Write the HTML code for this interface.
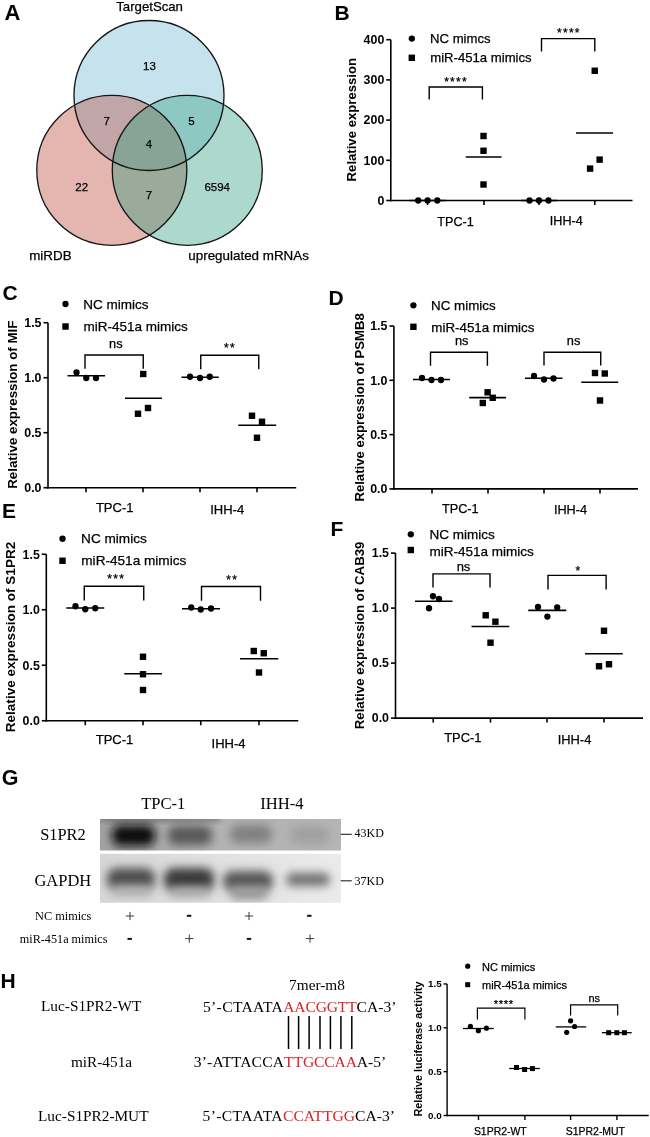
<!DOCTYPE html>
<html><head><meta charset="utf-8"><style>
html,body{margin:0;padding:0;background:#fff;}
body{width:650px;height:1137px;overflow:hidden;}
svg{display:block;will-change:transform;}
</style></head><body>
<svg width="650" height="1137" viewBox="0 0 650 1137">
<rect width="650" height="1137" fill="#fff"/>
<g>
<text x="4.4" y="20.0" font-family='"Liberation Sans", sans-serif' font-size="22" font-weight="bold" text-anchor="start" fill="#000" >A</text>
<defs><clipPath id="cpP"><circle cx="112.2" cy="170.3" r="75"/></clipPath><clipPath id="cpT"><circle cx="187.3" cy="170.3" r="75"/></clipPath></defs>
<circle cx="149" cy="95.5" r="75" fill="#c6e2ec"/>
<circle cx="112.2" cy="170.3" r="75" fill="#e4b6af"/>
<circle cx="187.3" cy="170.3" r="75" fill="#acd8cd"/>
<g clip-path="url(#cpP)"><circle cx="149" cy="95.5" r="75" fill="#c2a5a6"/></g>
<g clip-path="url(#cpT)"><circle cx="149" cy="95.5" r="75" fill="#8ec8c3"/><circle cx="112.2" cy="170.3" r="75" fill="#9aab9c"/><g clip-path="url(#cpP)"><circle cx="149" cy="95.5" r="75" fill="#87a496"/></g></g>
<circle cx="149" cy="95.5" r="75" fill="none" stroke="#151515" stroke-width="1.35"/>
<circle cx="111.8" cy="170.3" r="75" fill="none" stroke="#151515" stroke-width="1.35"/>
<circle cx="187.3" cy="170.3" r="75" fill="none" stroke="#151515" stroke-width="1.35"/>
<text x="149.6" y="11.4" font-family='"Liberation Sans", sans-serif' font-size="13.2" stroke="#000" stroke-width="0.25" text-anchor="middle" fill="#000" >TargetScan</text>
<text x="29.2" y="260.0" font-family='"Liberation Sans", sans-serif' font-size="13.4" stroke="#000" stroke-width="0.25" text-anchor="start" fill="#000" >miRDB</text>
<text x="188.3" y="260.0" font-family='"Liberation Sans", sans-serif' font-size="13.4" stroke="#000" stroke-width="0.25" text-anchor="start" fill="#000" >upregulated mRNAs</text>
<text x="149.4" y="70.30000000000001" font-family='"Liberation Sans", sans-serif' font-size="11.5" stroke="#000" stroke-width="0.25" text-anchor="middle" fill="#000" >13</text>
<text x="106.8" y="124.7" font-family='"Liberation Sans", sans-serif' font-size="11.5" stroke="#000" stroke-width="0.25" text-anchor="middle" fill="#000" >7</text>
<text x="191.4" y="124.7" font-family='"Liberation Sans", sans-serif' font-size="11.5" stroke="#000" stroke-width="0.25" text-anchor="middle" fill="#000" >5</text>
<text x="148.9" y="148.3" font-family='"Liberation Sans", sans-serif' font-size="11.5" stroke="#000" stroke-width="0.25" text-anchor="middle" fill="#000" >4</text>
<text x="81.7" y="191.1" font-family='"Liberation Sans", sans-serif' font-size="11.5" stroke="#000" stroke-width="0.25" text-anchor="middle" fill="#000" >22</text>
<text x="148.9" y="198.5" font-family='"Liberation Sans", sans-serif' font-size="11.5" stroke="#000" stroke-width="0.25" text-anchor="middle" fill="#000" >7</text>
<text x="217.2" y="191.1" font-family='"Liberation Sans", sans-serif' font-size="11.5" stroke="#000" stroke-width="0.25" text-anchor="middle" fill="#000" >6594</text>
</g>
<text x="334.5" y="19.8" font-family='"Liberation Sans", sans-serif' font-size="21" font-weight="bold" text-anchor="start" fill="#000" >B</text>
<line x1="390.8" y1="39.69999999999999" x2="390.8" y2="201.3" stroke="#000" stroke-width="1.6"/>
<line x1="390.0" y1="200.5" x2="632.5" y2="200.5" stroke="#000" stroke-width="1.6"/>
<line x1="386.3" y1="200.5" x2="390.8" y2="200.5" stroke="#000" stroke-width="1.6"/>
<text x="384.3" y="204.778" font-family='"Liberation Sans", sans-serif' font-size="12.4" font-weight="bold" text-anchor="end" fill="#000" >0</text>
<line x1="386.3" y1="160.3" x2="390.8" y2="160.3" stroke="#000" stroke-width="1.6"/>
<text x="384.3" y="164.578" font-family='"Liberation Sans", sans-serif' font-size="12.4" font-weight="bold" text-anchor="end" fill="#000" >100</text>
<line x1="386.3" y1="120.1" x2="390.8" y2="120.1" stroke="#000" stroke-width="1.6"/>
<text x="384.3" y="124.378" font-family='"Liberation Sans", sans-serif' font-size="12.4" font-weight="bold" text-anchor="end" fill="#000" >200</text>
<line x1="386.3" y1="79.89999999999999" x2="390.8" y2="79.89999999999999" stroke="#000" stroke-width="1.6"/>
<text x="384.3" y="84.178" font-family='"Liberation Sans", sans-serif' font-size="12.4" font-weight="bold" text-anchor="end" fill="#000" >300</text>
<line x1="386.3" y1="39.69999999999999" x2="390.8" y2="39.69999999999999" stroke="#000" stroke-width="1.6"/>
<text x="384.3" y="43.97799999999999" font-family='"Liberation Sans", sans-serif' font-size="12.4" font-weight="bold" text-anchor="end" fill="#000" >400</text>
<line x1="427.6" y1="200.5" x2="427.6" y2="205.0" stroke="#000" stroke-width="1.6"/>
<line x1="484" y1="200.5" x2="484" y2="205.0" stroke="#000" stroke-width="1.6"/>
<line x1="539" y1="200.5" x2="539" y2="205.0" stroke="#000" stroke-width="1.6"/>
<line x1="594.75" y1="200.5" x2="594.75" y2="205.0" stroke="#000" stroke-width="1.6"/>
<text transform="translate(356.0,119.7) rotate(-90)" font-family='"Liberation Sans", sans-serif' font-size="13.15" font-weight="bold" text-anchor="middle">Relative expression</text>
<text x="455.5" y="225.5" font-family='"Liberation Sans", sans-serif' font-size="12.6" stroke="#000" stroke-width="0.25" text-anchor="middle" fill="#000" >TPC-1</text>
<text x="566.3" y="225.3" font-family='"Liberation Sans", sans-serif' font-size="12.6" stroke="#000" stroke-width="0.25" text-anchor="middle" fill="#000" >IHH-4</text>
<circle cx="411.8" cy="38.6" r="3.15" fill="#000"/>
<text x="430.0" y="42.7" font-family='"Liberation Sans", sans-serif' font-size="13.15" stroke="#000" stroke-width="0.25" text-anchor="start" fill="#000" >NC mimcs</text>
<rect x="408.60" y="54.60" width="6.4" height="6.4" fill="#000"/>
<text x="430.2" y="62.4" font-family='"Liberation Sans", sans-serif' font-size="13.15" stroke="#000" stroke-width="0.25" text-anchor="start" fill="#000" >miR-451a mimics</text>
<path d="M429.2 99.5 V87 H482.4 V99.5" fill="none" stroke="#000" stroke-width="1.4"/>
<text x="456.1" y="85.5" font-family='"Liberation Sans", sans-serif' font-size="12" stroke="#000" stroke-width="0.25" text-anchor="middle" fill="#000" letter-spacing="1.3">****</text>
<path d="M541.5 51.6 V38.6 H594.8 V51.6" fill="none" stroke="#000" stroke-width="1.4"/>
<text x="568.9" y="37" font-family='"Liberation Sans", sans-serif' font-size="12" stroke="#000" stroke-width="0.25" text-anchor="middle" fill="#000" letter-spacing="1.3">****</text>
<circle cx="418.2" cy="200.5" r="3.15" fill="#000"/>
<circle cx="427.6" cy="200.5" r="3.15" fill="#000"/>
<circle cx="437.3" cy="200.5" r="3.15" fill="#000"/>
<line x1="409.5" y1="200.5" x2="446" y2="200.5" stroke="#000" stroke-width="1.7"/>
<rect x="480.30" y="132.80" width="6.4" height="6.4" fill="#000"/>
<rect x="480.30" y="147.55" width="6.4" height="6.4" fill="#000"/>
<rect x="480.30" y="181.30" width="6.4" height="6.4" fill="#000"/>
<line x1="465.75" y1="157" x2="501.5" y2="157" stroke="#000" stroke-width="1.7"/>
<circle cx="529.5" cy="200.5" r="3.15" fill="#000"/>
<circle cx="539" cy="200.5" r="3.15" fill="#000"/>
<circle cx="548.5" cy="200.5" r="3.15" fill="#000"/>
<line x1="521" y1="200.5" x2="557" y2="200.5" stroke="#000" stroke-width="1.7"/>
<rect x="591.55" y="67.55" width="6.4" height="6.4" fill="#000"/>
<rect x="586.90" y="165.40" width="6.4" height="6.4" fill="#000"/>
<rect x="596.40" y="156.40" width="6.4" height="6.4" fill="#000"/>
<line x1="576" y1="133" x2="613" y2="133" stroke="#000" stroke-width="1.7"/>
<text x="2.5" y="299.5" font-family='"Liberation Sans", sans-serif' font-size="21" font-weight="bold" text-anchor="start" fill="#000" >C</text>
<line x1="48.0" y1="322.7" x2="48.0" y2="488.5" stroke="#000" stroke-width="1.6"/>
<line x1="47.2" y1="487.7" x2="296.25" y2="487.7" stroke="#000" stroke-width="1.6"/>
<line x1="43.5" y1="487.7" x2="48.0" y2="487.7" stroke="#000" stroke-width="1.6"/>
<text x="41.5" y="491.978" font-family='"Liberation Sans", sans-serif' font-size="12.4" font-weight="bold" text-anchor="end" fill="#000" >0.0</text>
<line x1="43.5" y1="432.7" x2="48.0" y2="432.7" stroke="#000" stroke-width="1.6"/>
<text x="41.5" y="436.978" font-family='"Liberation Sans", sans-serif' font-size="12.4" font-weight="bold" text-anchor="end" fill="#000" >0.5</text>
<line x1="43.5" y1="377.7" x2="48.0" y2="377.7" stroke="#000" stroke-width="1.6"/>
<text x="41.5" y="381.978" font-family='"Liberation Sans", sans-serif' font-size="12.4" font-weight="bold" text-anchor="end" fill="#000" >1.0</text>
<line x1="43.5" y1="322.7" x2="48.0" y2="322.7" stroke="#000" stroke-width="1.6"/>
<text x="41.5" y="326.978" font-family='"Liberation Sans", sans-serif' font-size="12.4" font-weight="bold" text-anchor="end" fill="#000" >1.5</text>
<line x1="86" y1="487.7" x2="86" y2="492.2" stroke="#000" stroke-width="1.6"/>
<line x1="143" y1="487.7" x2="143" y2="492.2" stroke="#000" stroke-width="1.6"/>
<line x1="200" y1="487.7" x2="200" y2="492.2" stroke="#000" stroke-width="1.6"/>
<line x1="257" y1="487.7" x2="257" y2="492.2" stroke="#000" stroke-width="1.6"/>
<text transform="translate(17.4,404.7) rotate(-90)" font-family='"Liberation Sans", sans-serif' font-size="13.35" font-weight="bold" text-anchor="middle">Relative expression of MIF</text>
<text x="114.7" y="511.9" font-family='"Liberation Sans", sans-serif' font-size="13" stroke="#000" stroke-width="0.25" text-anchor="middle" fill="#000" >TPC-1</text>
<text x="227.2" y="514.4" font-family='"Liberation Sans", sans-serif' font-size="13" stroke="#000" stroke-width="0.25" text-anchor="middle" fill="#000" >IHH-4</text>
<circle cx="65.5" cy="304" r="3.15" fill="#000"/>
<text x="83.3" y="308.9" font-family='"Liberation Sans", sans-serif' font-size="13.5" stroke="#000" stroke-width="0.25" text-anchor="start" fill="#000" >NC mimics</text>
<rect x="62.30" y="323.30" width="6.4" height="6.4" fill="#000"/>
<text x="83.5" y="331.0" font-family='"Liberation Sans", sans-serif' font-size="13.5" stroke="#000" stroke-width="0.25" text-anchor="start" fill="#000" >miR-451a mimics</text>
<path d="M85 368.75 V355.0 H143.25 V368.75" fill="none" stroke="#000" stroke-width="1.4"/>
<text x="115.8" y="348.4" font-family='"Liberation Sans", sans-serif' font-size="12.8" stroke="#000" stroke-width="0.25" text-anchor="middle" fill="#000" >ns</text>
<path d="M200.75 369.25 V355.25 H258.75 V369.25" fill="none" stroke="#000" stroke-width="1.4"/>
<text x="230.1" y="352.3" font-family='"Liberation Sans", sans-serif' font-size="12" stroke="#000" stroke-width="0.25" text-anchor="middle" fill="#000" letter-spacing="1.3">**</text>
<circle cx="76.5" cy="372.5" r="3.15" fill="#000"/>
<circle cx="86.25" cy="378" r="3.15" fill="#000"/>
<circle cx="96" cy="378" r="3.15" fill="#000"/>
<line x1="67.5" y1="375.75" x2="105" y2="375.75" stroke="#000" stroke-width="1.7"/>
<rect x="140.05" y="370.80" width="6.4" height="6.4" fill="#000"/>
<rect x="134.80" y="410.55" width="6.4" height="6.4" fill="#000"/>
<rect x="144.80" y="404.80" width="6.4" height="6.4" fill="#000"/>
<line x1="125" y1="398.25" x2="162" y2="398.25" stroke="#000" stroke-width="1.7"/>
<circle cx="190" cy="376.75" r="3.15" fill="#000"/>
<circle cx="200" cy="378" r="3.15" fill="#000"/>
<circle cx="209.75" cy="376.75" r="3.15" fill="#000"/>
<line x1="181.5" y1="377.25" x2="218.75" y2="377.25" stroke="#000" stroke-width="1.7"/>
<rect x="248.80" y="412.55" width="6.4" height="6.4" fill="#000"/>
<rect x="258.80" y="418.55" width="6.4" height="6.4" fill="#000"/>
<rect x="253.80" y="434.55" width="6.4" height="6.4" fill="#000"/>
<line x1="238.25" y1="425.25" x2="276.25" y2="425.25" stroke="#000" stroke-width="1.7"/>
<text x="328.4" y="305.3" font-family='"Liberation Sans", sans-serif' font-size="21" font-weight="bold" text-anchor="start" fill="#000" >D</text>
<line x1="393.9" y1="326.0" x2="393.9" y2="489.7" stroke="#000" stroke-width="1.6"/>
<line x1="393.09999999999997" y1="488.9" x2="638" y2="488.9" stroke="#000" stroke-width="1.6"/>
<line x1="389.4" y1="488.9" x2="393.9" y2="488.9" stroke="#000" stroke-width="1.6"/>
<text x="387.4" y="493.178" font-family='"Liberation Sans", sans-serif' font-size="12.4" font-weight="bold" text-anchor="end" fill="#000" >0.0</text>
<line x1="389.4" y1="434.59999999999997" x2="393.9" y2="434.59999999999997" stroke="#000" stroke-width="1.6"/>
<text x="387.4" y="438.878" font-family='"Liberation Sans", sans-serif' font-size="12.4" font-weight="bold" text-anchor="end" fill="#000" >0.5</text>
<line x1="389.4" y1="380.29999999999995" x2="393.9" y2="380.29999999999995" stroke="#000" stroke-width="1.6"/>
<text x="387.4" y="384.578" font-family='"Liberation Sans", sans-serif' font-size="12.4" font-weight="bold" text-anchor="end" fill="#000" >1.0</text>
<line x1="389.4" y1="326.0" x2="393.9" y2="326.0" stroke="#000" stroke-width="1.6"/>
<text x="387.4" y="330.278" font-family='"Liberation Sans", sans-serif' font-size="12.4" font-weight="bold" text-anchor="end" fill="#000" >1.5</text>
<line x1="432" y1="488.9" x2="432" y2="493.4" stroke="#000" stroke-width="1.6"/>
<line x1="488" y1="488.9" x2="488" y2="493.4" stroke="#000" stroke-width="1.6"/>
<line x1="544" y1="488.9" x2="544" y2="493.4" stroke="#000" stroke-width="1.6"/>
<line x1="600" y1="488.9" x2="600" y2="493.4" stroke="#000" stroke-width="1.6"/>
<text transform="translate(363.5,407.4) rotate(-90)" font-family='"Liberation Sans", sans-serif' font-size="13.15" font-weight="bold" text-anchor="middle">Relative expression of PSMB8</text>
<text x="460.3" y="512.5" font-family='"Liberation Sans", sans-serif' font-size="12.7" stroke="#000" stroke-width="0.25" text-anchor="middle" fill="#000" >TPC-1</text>
<text x="570.5" y="514" font-family='"Liberation Sans", sans-serif' font-size="12.7" stroke="#000" stroke-width="0.25" text-anchor="middle" fill="#000" >IHH-4</text>
<circle cx="413.4" cy="305.3" r="3.15" fill="#000"/>
<text x="431.1" y="309.9" font-family='"Liberation Sans", sans-serif' font-size="13.35" stroke="#000" stroke-width="0.25" text-anchor="start" fill="#000" >NC mimics</text>
<rect x="410.20" y="323.60" width="6.4" height="6.4" fill="#000"/>
<text x="431.3" y="331.5" font-family='"Liberation Sans", sans-serif' font-size="13.35" stroke="#000" stroke-width="0.25" text-anchor="start" fill="#000" >miR-451a mimics</text>
<path d="M430.5 365.8 V352.3 H487.4 V365.8" fill="none" stroke="#000" stroke-width="1.4"/>
<text x="461.7" y="344.9" font-family='"Liberation Sans", sans-serif' font-size="12.8" stroke="#000" stroke-width="0.25" text-anchor="middle" fill="#000" >ns</text>
<path d="M544 365.5 V352.3 H600.75 V365.5" fill="none" stroke="#000" stroke-width="1.4"/>
<text x="573.6" y="344.8" font-family='"Liberation Sans", sans-serif' font-size="12.8" stroke="#000" stroke-width="0.25" text-anchor="middle" fill="#000" >ns</text>
<circle cx="422" cy="378" r="3.15" fill="#000"/>
<circle cx="431.5" cy="380" r="3.15" fill="#000"/>
<circle cx="441" cy="380" r="3.15" fill="#000"/>
<line x1="413" y1="379.5" x2="450" y2="379.5" stroke="#000" stroke-width="1.7"/>
<rect x="484.40" y="389.10" width="6.4" height="6.4" fill="#000"/>
<rect x="489.50" y="394.60" width="6.4" height="6.4" fill="#000"/>
<rect x="479.60" y="399.80" width="6.4" height="6.4" fill="#000"/>
<line x1="469.2" y1="397.6" x2="506.1" y2="397.6" stroke="#000" stroke-width="1.7"/>
<circle cx="534" cy="376" r="3.15" fill="#000"/>
<circle cx="544" cy="379.5" r="3.15" fill="#000"/>
<circle cx="553.5" cy="378.5" r="3.15" fill="#000"/>
<line x1="525" y1="378.25" x2="562.5" y2="378.25" stroke="#000" stroke-width="1.7"/>
<rect x="591.80" y="369.80" width="6.4" height="6.4" fill="#000"/>
<rect x="601.55" y="370.30" width="6.4" height="6.4" fill="#000"/>
<rect x="596.80" y="397.30" width="6.4" height="6.4" fill="#000"/>
<line x1="581.25" y1="382.25" x2="618.25" y2="382.25" stroke="#000" stroke-width="1.7"/>
<text x="2.0" y="517.5" font-family='"Liberation Sans", sans-serif' font-size="21" font-weight="bold" text-anchor="start" fill="#000" >E</text>
<line x1="46.3" y1="554.25" x2="46.3" y2="721.55" stroke="#000" stroke-width="1.6"/>
<line x1="45.5" y1="720.75" x2="298.25" y2="720.75" stroke="#000" stroke-width="1.6"/>
<line x1="41.8" y1="720.75" x2="46.3" y2="720.75" stroke="#000" stroke-width="1.6"/>
<text x="39.8" y="725.028" font-family='"Liberation Sans", sans-serif' font-size="12.4" font-weight="bold" text-anchor="end" fill="#000" >0.0</text>
<line x1="41.8" y1="665.25" x2="46.3" y2="665.25" stroke="#000" stroke-width="1.6"/>
<text x="39.8" y="669.528" font-family='"Liberation Sans", sans-serif' font-size="12.4" font-weight="bold" text-anchor="end" fill="#000" >0.5</text>
<line x1="41.8" y1="609.75" x2="46.3" y2="609.75" stroke="#000" stroke-width="1.6"/>
<text x="39.8" y="614.028" font-family='"Liberation Sans", sans-serif' font-size="12.4" font-weight="bold" text-anchor="end" fill="#000" >1.0</text>
<line x1="41.8" y1="554.25" x2="46.3" y2="554.25" stroke="#000" stroke-width="1.6"/>
<text x="39.8" y="558.528" font-family='"Liberation Sans", sans-serif' font-size="12.4" font-weight="bold" text-anchor="end" fill="#000" >1.5</text>
<line x1="85.25" y1="720.75" x2="85.25" y2="725.25" stroke="#000" stroke-width="1.6"/>
<line x1="143" y1="720.75" x2="143" y2="725.25" stroke="#000" stroke-width="1.6"/>
<line x1="200.75" y1="720.75" x2="200.75" y2="725.25" stroke="#000" stroke-width="1.6"/>
<line x1="259" y1="720.75" x2="259" y2="725.25" stroke="#000" stroke-width="1.6"/>
<text transform="translate(15.3,637.0) rotate(-90)" font-family='"Liberation Sans", sans-serif' font-size="13.55" font-weight="bold" text-anchor="middle">Relative expression of S1PR2</text>
<text x="114.5" y="744.2" font-family='"Liberation Sans", sans-serif' font-size="13" stroke="#000" stroke-width="0.25" text-anchor="middle" fill="#000" >TPC-1</text>
<text x="228.6" y="748.2" font-family='"Liberation Sans", sans-serif' font-size="13" stroke="#000" stroke-width="0.25" text-anchor="middle" fill="#000" >IHH-4</text>
<circle cx="62.5" cy="538.75" r="3.15" fill="#000"/>
<text x="81.1" y="543.0" font-family='"Liberation Sans", sans-serif' font-size="13.6" stroke="#000" stroke-width="0.25" text-anchor="start" fill="#000" >NC mimics</text>
<rect x="59.30" y="557.55" width="6.4" height="6.4" fill="#000"/>
<text x="81.3" y="565.3" font-family='"Liberation Sans", sans-serif' font-size="13.6" stroke="#000" stroke-width="0.25" text-anchor="start" fill="#000" >miR-451a mimics</text>
<path d="M84.25 600.5 V586.2 H143.75 V600.5" fill="none" stroke="#000" stroke-width="1.4"/>
<text x="116.2" y="582.7" font-family='"Liberation Sans", sans-serif' font-size="12" stroke="#000" stroke-width="0.25" text-anchor="middle" fill="#000" letter-spacing="1.3">***</text>
<path d="M201.5 600.75 V586.5 H260.5 V600.75" fill="none" stroke="#000" stroke-width="1.4"/>
<text x="232.3" y="583.9" font-family='"Liberation Sans", sans-serif' font-size="12" stroke="#000" stroke-width="0.25" text-anchor="middle" fill="#000" letter-spacing="1.3">**</text>
<circle cx="75.5" cy="606.25" r="3.15" fill="#000"/>
<circle cx="85.25" cy="609.25" r="3.15" fill="#000"/>
<circle cx="95.25" cy="608.25" r="3.15" fill="#000"/>
<line x1="66.25" y1="608" x2="104.25" y2="608" stroke="#000" stroke-width="1.7"/>
<rect x="139.80" y="653.55" width="6.4" height="6.4" fill="#000"/>
<rect x="139.80" y="671.05" width="6.4" height="6.4" fill="#000"/>
<rect x="139.80" y="686.80" width="6.4" height="6.4" fill="#000"/>
<line x1="124.25" y1="673.75" x2="162" y2="673.75" stroke="#000" stroke-width="1.7"/>
<circle cx="191.25" cy="607.5" r="3.15" fill="#000"/>
<circle cx="200.75" cy="609.5" r="3.15" fill="#000"/>
<circle cx="211" cy="608.5" r="3.15" fill="#000"/>
<line x1="182" y1="608.75" x2="220" y2="608.75" stroke="#000" stroke-width="1.7"/>
<rect x="250.55" y="647.80" width="6.4" height="6.4" fill="#000"/>
<rect x="260.55" y="650.05" width="6.4" height="6.4" fill="#000"/>
<rect x="255.80" y="669.30" width="6.4" height="6.4" fill="#000"/>
<line x1="240" y1="658.75" x2="278.25" y2="658.75" stroke="#000" stroke-width="1.7"/>
<text x="330.5" y="535.5" font-family='"Liberation Sans", sans-serif' font-size="21" font-weight="bold" text-anchor="start" fill="#000" >F</text>
<line x1="395.5" y1="553.1" x2="395.5" y2="718.9" stroke="#000" stroke-width="1.6"/>
<line x1="394.7" y1="718.1" x2="643" y2="718.1" stroke="#000" stroke-width="1.6"/>
<line x1="391.0" y1="718.1" x2="395.5" y2="718.1" stroke="#000" stroke-width="1.6"/>
<text x="389.0" y="722.378" font-family='"Liberation Sans", sans-serif' font-size="12.4" font-weight="bold" text-anchor="end" fill="#000" >0.0</text>
<line x1="391.0" y1="663.1" x2="395.5" y2="663.1" stroke="#000" stroke-width="1.6"/>
<text x="389.0" y="667.378" font-family='"Liberation Sans", sans-serif' font-size="12.4" font-weight="bold" text-anchor="end" fill="#000" >0.5</text>
<line x1="391.0" y1="608.1" x2="395.5" y2="608.1" stroke="#000" stroke-width="1.6"/>
<text x="389.0" y="612.378" font-family='"Liberation Sans", sans-serif' font-size="12.4" font-weight="bold" text-anchor="end" fill="#000" >1.0</text>
<line x1="391.0" y1="553.1" x2="395.5" y2="553.1" stroke="#000" stroke-width="1.6"/>
<text x="389.0" y="557.378" font-family='"Liberation Sans", sans-serif' font-size="12.4" font-weight="bold" text-anchor="end" fill="#000" >1.5</text>
<line x1="433.25" y1="718.1" x2="433.25" y2="722.6" stroke="#000" stroke-width="1.6"/>
<line x1="490.5" y1="718.1" x2="490.5" y2="722.6" stroke="#000" stroke-width="1.6"/>
<line x1="547" y1="718.1" x2="547" y2="722.6" stroke="#000" stroke-width="1.6"/>
<line x1="604" y1="718.1" x2="604" y2="722.6" stroke="#000" stroke-width="1.6"/>
<text transform="translate(363.5,635.4) rotate(-90)" font-family='"Liberation Sans", sans-serif' font-size="13.25" font-weight="bold" text-anchor="middle">Relative expression of CAB39</text>
<text x="462.8" y="741.7" font-family='"Liberation Sans", sans-serif' font-size="12.9" stroke="#000" stroke-width="0.25" text-anchor="middle" fill="#000" >TPC-1</text>
<text x="574.5" y="744" font-family='"Liberation Sans", sans-serif' font-size="12.9" stroke="#000" stroke-width="0.25" text-anchor="middle" fill="#000" >IHH-4</text>
<circle cx="410.8" cy="534.3" r="3.15" fill="#000"/>
<text x="429.4" y="539.4" font-family='"Liberation Sans", sans-serif' font-size="13.5" stroke="#000" stroke-width="0.25" text-anchor="start" fill="#000" >NC mimics</text>
<rect x="407.60" y="546.80" width="6.4" height="6.4" fill="#000"/>
<text x="429.6" y="555.7" font-family='"Liberation Sans", sans-serif' font-size="13.5" stroke="#000" stroke-width="0.25" text-anchor="start" fill="#000" >miR-451a mimics</text>
<path d="M433 587.5 V573.9 H490 V587.5" fill="none" stroke="#000" stroke-width="1.4"/>
<text x="463.5" y="570.5" font-family='"Liberation Sans", sans-serif' font-size="13" stroke="#000" stroke-width="0.25" text-anchor="middle" fill="#000" >ns</text>
<path d="M548 589.5 V575.4 H606.1 V589.5" fill="none" stroke="#000" stroke-width="1.4"/>
<text x="577.85" y="574.9" font-family='"Liberation Sans", sans-serif' font-size="12" stroke="#000" stroke-width="0.25" text-anchor="middle" fill="#000" >*</text>
<circle cx="433" cy="596.25" r="3.15" fill="#000"/>
<circle cx="439" cy="599" r="3.15" fill="#000"/>
<circle cx="429" cy="608.25" r="3.15" fill="#000"/>
<line x1="415" y1="601.25" x2="452.5" y2="601.25" stroke="#000" stroke-width="1.7"/>
<rect x="482.50" y="612.10" width="6.4" height="6.4" fill="#000"/>
<rect x="492.20" y="618.50" width="6.4" height="6.4" fill="#000"/>
<rect x="487.30" y="639.50" width="6.4" height="6.4" fill="#000"/>
<line x1="471.5" y1="626.5" x2="509.3" y2="626.5" stroke="#000" stroke-width="1.7"/>
<circle cx="538" cy="607" r="3.15" fill="#000"/>
<circle cx="547.4" cy="616.6" r="3.15" fill="#000"/>
<circle cx="557.2" cy="607.4" r="3.15" fill="#000"/>
<line x1="528.25" y1="610.3" x2="566.25" y2="610.3" stroke="#000" stroke-width="1.7"/>
<rect x="600.80" y="627.55" width="6.4" height="6.4" fill="#000"/>
<rect x="595.80" y="663.05" width="6.4" height="6.4" fill="#000"/>
<rect x="605.80" y="661.05" width="6.4" height="6.4" fill="#000"/>
<line x1="585" y1="653.75" x2="622.75" y2="653.75" stroke="#000" stroke-width="1.7"/>
<text x="1.8" y="784.8" font-family='"Liberation Sans", sans-serif' font-size="21.5" font-weight="bold" text-anchor="start" fill="#000" >G</text>
<text x="163.3" y="809" font-family='"Liberation Serif", serif' font-size="16.6" text-anchor="middle" fill="#000" >TPC-1</text>
<text x="282" y="809" font-family='"Liberation Serif", serif' font-size="16.6" text-anchor="middle" fill="#000" >IHH-4</text>
<text x="40.2" y="840.0" font-family='"Liberation Serif", serif' font-size="16.4" text-anchor="start" fill="#000" >S1PR2</text>
<text x="34.5" y="886.4" font-family='"Liberation Serif", serif' font-size="16.45" text-anchor="start" fill="#000" >GAPDH</text>
<defs>
<filter id="bl" x="-50%" y="-80%" width="200%" height="260%"><feGaussianBlur stdDeviation="4.8"/></filter>
<filter id="bl2" x="-50%" y="-80%" width="200%" height="260%"><feGaussianBlur stdDeviation="3"/></filter>
<linearGradient id="tg" x1="0" y1="0" x2="1" y2="0"><stop offset="0" stop-color="#a2a2a2"/><stop offset="0.5" stop-color="#b3b3b3"/><stop offset="1" stop-color="#b5b5b5"/></linearGradient>
<linearGradient id="bg2" x1="0" y1="0" x2="1" y2="0"><stop offset="0" stop-color="#d6d6d6"/><stop offset="1" stop-color="#ebebeb"/></linearGradient>
<clipPath id="c1"><rect x="100" y="819" width="241" height="31.5"/></clipPath>
<clipPath id="c2"><rect x="100" y="853.8" width="241" height="49"/></clipPath>
</defs>
<rect x="100" y="819" width="241" height="31.5" fill="url(#tg)"/>
<g clip-path="url(#c1)">
<rect x="100" y="816" width="120" height="5" fill="#6a6a6a" filter="url(#bl2)"/>
<rect x="112" y="825" width="43" height="21" rx="8" fill="#0c0c0c" filter="url(#bl)"/>
<rect x="168" y="826" width="44" height="19" rx="8" fill="#585858" filter="url(#bl)"/>
<rect x="230" y="825" width="42" height="18" rx="8" fill="#808080" filter="url(#bl)"/>
<rect x="290" y="826" width="39" height="18" rx="8" fill="#a0a0a0" filter="url(#bl)"/>
</g>
<rect x="100" y="853.8" width="241" height="49" fill="url(#bg2)"/>
<g clip-path="url(#c2)">
<rect x="107" y="868" width="48" height="22" rx="9" fill="#505050" filter="url(#bl)"/>
<rect x="112" y="886" width="40" height="10" rx="5" fill="#b8b8b8" filter="url(#bl)"/>
<rect x="164" y="868" width="50" height="23" rx="9" fill="#3a3a3a" filter="url(#bl)"/>
<rect x="170" y="887" width="40" height="10" rx="5" fill="#b0b0b0" filter="url(#bl)"/>
<rect x="223" y="871" width="50" height="20" rx="9" fill="#555555" filter="url(#bl)"/>
<rect x="230" y="886" width="38" height="14" rx="6" fill="#9a9a9a" filter="url(#bl)"/>
<rect x="286" y="873" width="44" height="13" rx="6" fill="#6e6e6e" filter="url(#bl)"/>
</g>
<line x1="340.7" y1="834.3" x2="351.8" y2="834.3" stroke="#222" stroke-width="1.1"/>
<line x1="340.7" y1="880.8" x2="351.8" y2="880.8" stroke="#222" stroke-width="1.1"/>
<text x="354.5" y="837.0" font-family='"Liberation Serif", serif' font-size="12" text-anchor="start" fill="#000" >43KD</text>
<text x="354.5" y="885" font-family='"Liberation Serif", serif' font-size="12" text-anchor="start" fill="#000" >37KD</text>
<text x="35.0" y="920" font-family='"Liberation Serif", serif' font-size="12.3" text-anchor="start" fill="#000" >NC mimics</text>
<text x="19.8" y="943" font-family='"Liberation Serif", serif' font-size="12.2" text-anchor="start" fill="#000" >miR-451a mimics</text>
<line x1="125.9" y1="916" x2="134.1" y2="916" stroke="#3a3a3a" stroke-width="1.0"/>
<line x1="130" y1="911.9" x2="130" y2="920.1" stroke="#3a3a3a" stroke-width="1.0"/>
<line x1="186.9" y1="915.8" x2="191.29999999999998" y2="915.8" stroke="#111" stroke-width="2.0"/>
<line x1="244.9" y1="916" x2="253.1" y2="916" stroke="#3a3a3a" stroke-width="1.0"/>
<line x1="249" y1="911.9" x2="249" y2="920.1" stroke="#3a3a3a" stroke-width="1.0"/>
<line x1="307.1" y1="915.8" x2="311.5" y2="915.8" stroke="#111" stroke-width="2.0"/>
<line x1="127.49999999999999" y1="938.9" x2="131.89999999999998" y2="938.9" stroke="#111" stroke-width="2.0"/>
<line x1="185.20000000000002" y1="938.6" x2="193.4" y2="938.6" stroke="#3a3a3a" stroke-width="1.0"/>
<line x1="189.3" y1="934.5" x2="189.3" y2="942.7" stroke="#3a3a3a" stroke-width="1.0"/>
<line x1="246.8" y1="938.9" x2="251.2" y2="938.9" stroke="#111" stroke-width="2.0"/>
<line x1="305.9" y1="938.6" x2="314.1" y2="938.6" stroke="#3a3a3a" stroke-width="1.0"/>
<line x1="310" y1="934.5" x2="310" y2="942.7" stroke="#3a3a3a" stroke-width="1.0"/>
<text x="0.4" y="987.8" font-family='"Liberation Sans", sans-serif' font-size="21" font-weight="bold" text-anchor="start" fill="#000" >H</text>
<text x="41.0" y="1011.1" font-family='"Liberation Serif", serif' font-size="15.3" text-anchor="start" fill="#000" >Luc-S1PR2-WT</text>
<text x="70.9" y="1066.7" font-family='"Liberation Serif", serif' font-size="15.3" text-anchor="start" fill="#000" >miR-451a</text>
<text x="38.0" y="1121.0" font-family='"Liberation Serif", serif' font-size="15.3" text-anchor="start" fill="#000" >Luc-S1PR2-MUT</text>
<text x="317" y="990.2" font-family='"Liberation Serif", serif' font-size="15.3" text-anchor="middle" fill="#000" >7mer-m8</text>
<text x="202.95" y="1012.1" font-family='"Liberation Serif", serif' font-size="15.6" letter-spacing="0.343" fill="#000">5’-CTAATA</text>
<text x="283.24" y="1012.1" font-family='"Liberation Serif", serif' font-size="15.6" letter-spacing="-0.17" fill="#dc2424">AACGGTT</text>
<text x="356.56" y="1012.1" font-family='"Liberation Serif", serif' font-size="15.6" letter-spacing="0" fill="#000">CA-3’</text>
<text x="193.85" y="1067.3" font-family='"Liberation Serif", serif' font-size="15.6" letter-spacing="0.143" fill="#000">3’-ATTACCA</text>
<text x="284.12" y="1067.3" font-family='"Liberation Serif", serif' font-size="15.6" letter-spacing="-0.13" fill="#dc2424">TTGCCAA</text>
<text x="356.84" y="1067.3" font-family='"Liberation Serif", serif' font-size="15.6" letter-spacing="0" fill="#000">A-5’</text>
<text x="202.6" y="1121.4" font-family='"Liberation Serif", serif' font-size="15.6" letter-spacing="0.35" fill="#000">5’-CTAATA</text>
<text x="282.96" y="1121.4" font-family='"Liberation Serif", serif' font-size="15.6" letter-spacing="0.026" fill="#dc2424">CCATTGG</text>
<text x="355.06" y="1121.4" font-family='"Liberation Serif", serif' font-size="15.6" letter-spacing="0" fill="#000">CA-3’</text>
<line x1="288.5" y1="1016" x2="288.5" y2="1049" stroke="#000" stroke-width="1.5"/>
<line x1="298.6" y1="1016" x2="298.6" y2="1049" stroke="#000" stroke-width="1.5"/>
<line x1="309.1" y1="1016" x2="309.1" y2="1049" stroke="#000" stroke-width="1.5"/>
<line x1="320" y1="1016" x2="320" y2="1049" stroke="#000" stroke-width="1.5"/>
<line x1="330.4" y1="1016" x2="330.4" y2="1049" stroke="#000" stroke-width="1.5"/>
<line x1="340.9" y1="1016" x2="340.9" y2="1049" stroke="#000" stroke-width="1.5"/>
<line x1="351.8" y1="1016" x2="351.8" y2="1049" stroke="#000" stroke-width="1.5"/>
<line x1="447.1" y1="983.95" x2="447.1" y2="1116.2" stroke="#000" stroke-width="1.4"/>
<line x1="446.40000000000003" y1="1115.5" x2="648.7" y2="1115.5" stroke="#000" stroke-width="1.4"/>
<line x1="443.6" y1="1115.5" x2="447.1" y2="1115.5" stroke="#000" stroke-width="1.4"/>
<text x="441.6" y="1118.881" font-family='"Liberation Sans", sans-serif' font-size="9.8" font-weight="bold" text-anchor="end" fill="#000" >0.0</text>
<line x1="443.6" y1="1071.65" x2="447.1" y2="1071.65" stroke="#000" stroke-width="1.4"/>
<text x="441.6" y="1075.0310000000002" font-family='"Liberation Sans", sans-serif' font-size="9.8" font-weight="bold" text-anchor="end" fill="#000" >0.5</text>
<line x1="443.6" y1="1027.8" x2="447.1" y2="1027.8" stroke="#000" stroke-width="1.4"/>
<text x="441.6" y="1031.181" font-family='"Liberation Sans", sans-serif' font-size="9.8" font-weight="bold" text-anchor="end" fill="#000" >1.0</text>
<line x1="443.6" y1="983.95" x2="447.1" y2="983.95" stroke="#000" stroke-width="1.4"/>
<text x="441.6" y="987.331" font-family='"Liberation Sans", sans-serif' font-size="9.8" font-weight="bold" text-anchor="end" fill="#000" >1.5</text>
<line x1="478.5" y1="1115.5" x2="478.5" y2="1120.0" stroke="#000" stroke-width="1.4"/>
<line x1="524.9" y1="1115.5" x2="524.9" y2="1120.0" stroke="#000" stroke-width="1.4"/>
<line x1="570.6" y1="1115.5" x2="570.6" y2="1120.0" stroke="#000" stroke-width="1.4"/>
<line x1="616.9" y1="1115.5" x2="616.9" y2="1120.0" stroke="#000" stroke-width="1.4"/>
<text transform="translate(422,1049) rotate(-90)" font-family='"Liberation Sans", sans-serif' font-size="10.8" font-weight="bold" text-anchor="middle">Relative luciferase activity</text>
<text x="500.3" y="1135.3" font-family='"Liberation Sans", sans-serif' font-size="10.45" stroke="#000" stroke-width="0.25" text-anchor="middle" fill="#000" >S1PR2-WT</text>
<text x="595.4" y="1135.3" font-family='"Liberation Sans", sans-serif' font-size="10.45" stroke="#000" stroke-width="0.25" text-anchor="middle" fill="#000" >S1PR2-MUT</text>
<circle cx="467.7" cy="966.2" r="2.6" fill="#000"/>
<text x="482.0" y="970.8" font-family='"Liberation Sans", sans-serif' font-size="11" stroke="#000" stroke-width="0.25" text-anchor="start" fill="#000" >NC mimics</text>
<rect x="465.20" y="982.20" width="5" height="5" fill="#000"/>
<text x="482.0" y="988.7" font-family='"Liberation Sans", sans-serif' font-size="11" stroke="#000" stroke-width="0.25" text-anchor="start" fill="#000" >miR-451a mimics</text>
<path d="M477.4 1019.4 V1008.2 H524.9 V1019.4" fill="none" stroke="#000" stroke-width="1.2"/>
<text x="503.8" y="1008.0" font-family='"Liberation Sans", sans-serif' font-size="11.5" stroke="#000" stroke-width="0.25" text-anchor="middle" fill="#000" letter-spacing="0.5">****</text>
<path d="M570.6 1015.4 V1004.8 H617.7 V1015.4" fill="none" stroke="#000" stroke-width="1.2"/>
<text x="594.2" y="1001.7" font-family='"Liberation Sans", sans-serif' font-size="11" stroke="#000" stroke-width="0.25" text-anchor="middle" fill="#000" >ns</text>
<circle cx="470.4" cy="1026.4" r="2.6" fill="#000"/>
<circle cx="478.4" cy="1030.7" r="2.6" fill="#000"/>
<circle cx="486.4" cy="1028.2" r="2.6" fill="#000"/>
<line x1="463" y1="1028.5" x2="493.8" y2="1028.5" stroke="#000" stroke-width="1.3"/>
<rect x="514.00" y="1065.00" width="5" height="5" fill="#000"/>
<rect x="522.10" y="1067.00" width="5" height="5" fill="#000"/>
<rect x="530.00" y="1066.10" width="5" height="5" fill="#000"/>
<line x1="509.2" y1="1068.5" x2="539.8" y2="1068.5" stroke="#000" stroke-width="1.3"/>
<circle cx="570.6" cy="1020.8" r="2.6" fill="#000"/>
<circle cx="574.6" cy="1026.5" r="2.6" fill="#000"/>
<circle cx="566.7" cy="1032.3" r="2.6" fill="#000"/>
<line x1="555.8" y1="1026.9" x2="586.2" y2="1026.9" stroke="#000" stroke-width="1.3"/>
<rect x="606.20" y="1030.20" width="5" height="5" fill="#000"/>
<rect x="614.40" y="1030.20" width="5" height="5" fill="#000"/>
<rect x="621.90" y="1030.20" width="5" height="5" fill="#000"/>
<line x1="601.9" y1="1032.7" x2="631.7" y2="1032.7" stroke="#000" stroke-width="1.3"/>
</svg>
</body></html>
